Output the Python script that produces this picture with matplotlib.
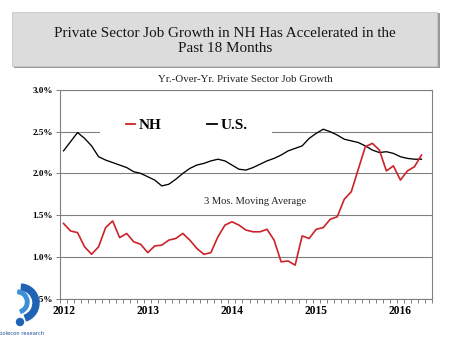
import matplotlib
matplotlib.use("Agg")
import matplotlib.pyplot as plt
from matplotlib.patches import Rectangle, Wedge, Circle
from matplotlib.ticker import FixedLocator, FuncFormatter

# monthly index: 0 = Jan 2012 ... 51 = Apr 2016
years = ["2012", "2013", "2014", "2015", "2016"]
us = [2.27, 2.38, 2.49, 2.42, 2.33, 2.20, 2.16, 2.13, 2.10, 2.07, 2.02, 2.00,
      1.96, 1.92, 1.85, 1.87, 1.93, 2.00, 2.06, 2.10, 2.12, 2.15, 2.17, 2.15,
      2.10, 2.05, 2.04, 2.07, 2.11, 2.15, 2.18, 2.22, 2.27, 2.30, 2.33, 2.42,
      2.48, 2.53, 2.50, 2.46, 2.41, 2.39, 2.37, 2.33, 2.28, 2.25, 2.26, 2.24,
      2.20, 2.18, 2.17, 2.17]
nh = [1.40, 1.31, 1.29, 1.12, 1.03, 1.12, 1.35, 1.43, 1.23, 1.28, 1.18, 1.15,
      1.05, 1.13, 1.14, 1.20, 1.22, 1.28, 1.20, 1.10, 1.03, 1.05, 1.24, 1.38,
      1.42, 1.38, 1.32, 1.30, 1.30, 1.33, 1.20, 0.94, 0.95, 0.90, 1.25, 1.22,
      1.33, 1.35, 1.45, 1.48, 1.69, 1.78, 2.05, 2.32, 2.36, 2.28, 2.03, 2.09,
      1.92, 2.03, 2.08, 2.22]
months = list(range(len(us)))

serif = "Liberation Serif"
grey = "#808080"
red = "#cc2229"

fig = plt.figure(figsize=(4.5, 3.37), dpi=100)

# title box with a small shadow
fig.patches.append(Rectangle((14 / 450, 1 - 68 / 337), 426 / 450, 55 / 337,
                             transform=fig.transFigure, facecolor="#9a9a9a",
                             edgecolor="none", zorder=0))
fig.patches.append(Rectangle((12 / 450, 1 - 66 / 337), 425 / 450, 54 / 337,
                             transform=fig.transFigure, facecolor="#dcdcdc",
                             edgecolor="#c8c8c8", linewidth=0.6, zorder=1))
fig.text(0.5, 1 - 41 / 337, "Private Sector Job Growth in NH Has Accelerated in the\nPast 18 Months",
         ha="center", va="center", family=serif, fontsize=10.9, linespacing=1.2,
         color="#151515")

fig.text(245 / 450, 1 - 79 / 337, "Yr.-Over-Yr. Private Sector Job Growth",
         ha="center", va="center", family=serif, fontsize=7.8, color="#202020")

ax = fig.add_axes([60 / 450, 1 - 298.5 / 337, 372 / 450, 208.5 / 337])
ax.plot(months, us, color="black", linewidth=0.95, label="U.S.", zorder=3)
ax.plot(months, nh, color=red, linewidth=1.2, label="NH", zorder=3)

ax.set_ylim(0.5, 3.0)
ax.set_xlim(-0.5, 52.35)
ax.yaxis.set_major_locator(FixedLocator([0.5, 1.0, 1.5, 2.0, 2.5, 3.0]))
ax.yaxis.set_major_formatter(FuncFormatter(lambda v, p: "%.1f%%" % v))
ax.grid(axis="y", color=grey, linewidth=0.8)
ax.set_axisbelow(True)

ax.set_xticks([0, 12, 24, 36, 48])
ax.set_xticklabels(years)
ax.set_xticks([k - 0.5 for k in range(54)], minor=True)
ax.tick_params(axis="x", which="major", length=0, pad=5)
ax.tick_params(axis="x", which="minor", length=3, direction="out", color=grey, width=0.7)
ax.tick_params(axis="y", length=3, direction="out", color=grey, width=0.7, pad=2)
for lab in ax.get_xticklabels():
    lab.set_family(serif)
    lab.set_fontweight("bold")
    lab.set_fontsize(8.3)
for lab in ax.get_yticklabels():
    lab.set_family(serif)
    lab.set_fontweight("bold")
    lab.set_fontsize(6.6)
for s in ax.spines.values():
    s.set_color(grey)
    s.set_linewidth(0.8)

# white legend background hiding the gridline
ax.add_patch(Rectangle((0.1075, 0.731), 0.4625, 0.144, transform=ax.transAxes,
                       facecolor="white", edgecolor="none", zorder=2))
handles, labels = ax.get_legend_handles_labels()
leg = ax.legend(handles[::-1], labels[::-1], ncol=2, loc="center left",
                bbox_to_anchor=(0.177, 0.832), frameon=False,
                handlelength=0.6, handletextpad=0.25, columnspacing=3.0,
                borderpad=0, borderaxespad=0,
                prop={"family": serif, "weight": "bold", "size": 11})
for h in leg.legend_handles:
    h.set_linewidth(1.3)

ax.text(27.3, 1.66, "3 Mos. Moving Average", ha="center", va="center",
        family=serif, fontsize=7.6, color="#202020")

# small logo bottom left
lax = fig.add_axes([0, 0, 70 / 450, 57 / 337])
lax.set_xlim(0, 70)
lax.set_ylim(0, 57)
lax.axis("off")
lax.add_patch(Wedge((20, 34), 19, 290, 85, width=6, color="#1f63b5"))
lax.add_patch(Wedge((17, 35), 12, 290, 85, width=3.5, color="#3a8fd8"))
lax.add_patch(Circle((20, 15), 3.5, color="#1f63b5"))
lax.text(22, 4, "polecon research", ha="center", va="center", fontsize=3.8,
         color="#1f4f9a")

fig.savefig("out.png", dpi=100)
